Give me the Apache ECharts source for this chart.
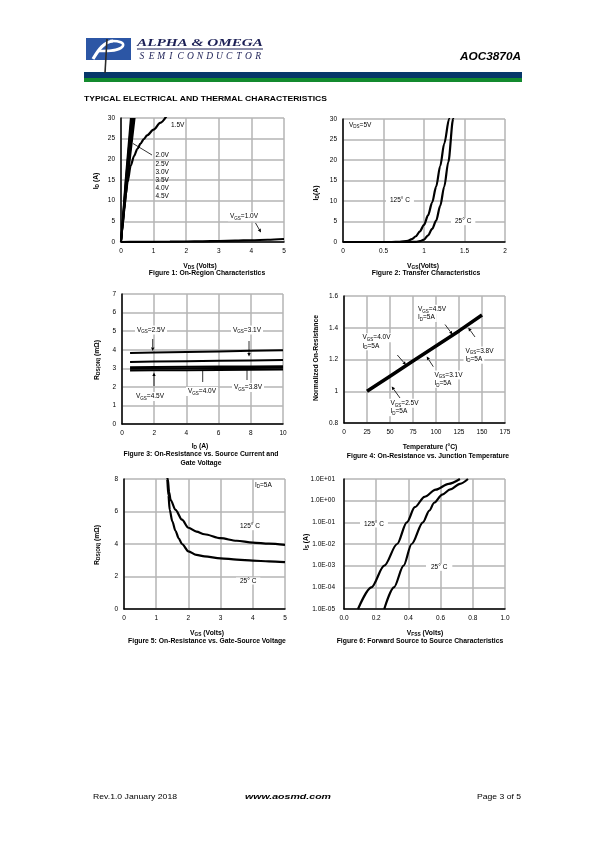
<!DOCTYPE html>
<html><head><meta charset="utf-8">
<script src="https://cdn.jsdelivr.net/npm/echarts@6/dist/echarts.min.js"></script>
<style>html,body{margin:0;padding:0;background:#fff}#c{width:595px;height:842px}</style>
</head><body><div id="c"></div>
<script>
// ---------- DATA ----------
// Figure 1: On-Region Characteristics (VDS V, ID A)
const f1_vgs15_x = [0, 0.05, 0.1, 0.15, 0.2, 0.3, 0.4, 0.5, 0.6, 0.7, 0.8, 1.0, 1.2, 1.4];
const f1_vgs15_y = [0, 4, 8, 11.5, 14.5, 18.5, 20.8, 22.5, 23.8, 24.9, 25.8, 27.2, 28.8, 30.5];
const f1_vgs10_x = [0, 0.5, 1, 1.5, 2, 2.5, 3, 3.5, 4, 4.5, 5];
const f1_vgs10_y = [0, 0.02, 0.05, 0.08, 0.12, 0.17, 0.24, 0.32, 0.42, 0.55, 0.72];
const f1_bundle_labels = ['2.0V', '2.5V', '3.0V', '3.5V', '4.0V', '4.5V'];
const f1_bundle_x = [[0, 0.2, 0.42], [0, 0.185, 0.39], [0, 0.17, 0.36], [0, 0.16, 0.34], [0, 0.15, 0.32], [0, 0.14, 0.30]];
const f1_bundle_y = [0, 15, 30];
// Figure 2: Transfer Characteristics (VGS V, ID A)
const f2_t25_x = [0, 0.8, 0.9, 0.95, 1.0, 1.05, 1.1, 1.15, 1.2, 1.25, 1.3, 1.36, 1.38];
const f2_t25_y = [0, 0, 0.05, 0.2, 0.6, 1.6, 3.2, 5.2, 8.8, 13.5, 19.5, 30, 33];
const f2_t125_x = [0, 0.6, 0.7, 0.8, 0.85, 0.9, 0.95, 1.0, 1.05, 1.1, 1.15, 1.2, 1.25, 1.31, 1.33];
const f2_t125_y = [0, 0, 0.05, 0.3, 0.7, 1.4, 2.6, 4.2, 6.5, 9.6, 13.5, 18.5, 24, 30, 33];
// Figure 3: On-Resistance vs. Drain Current (ID A, RDS(ON) mOhm)
const f3_id = [0.5, 2, 4, 6, 8, 10];
const f3_r25 = [3.82, 3.85, 3.88, 3.91, 3.94, 3.97];
const f3_r31 = [3.34, 3.36, 3.38, 3.40, 3.42, 3.44];
const f3_r38 = [3.06, 3.07, 3.08, 3.09, 3.10, 3.11];
const f3_r40 = [2.98, 2.99, 3.00, 3.01, 3.02, 3.03];
const f3_r45 = [2.88, 2.89, 2.90, 2.91, 2.92, 2.93];
// Figure 4: Normalized On-Resistance vs. Temperature
const f4_temp = [25, 50, 75, 100, 125, 150];
const f4_norm = [1.0, 1.095, 1.19, 1.285, 1.38, 1.48];
// Figure 5: On-Resistance vs. Gate-Source Voltage (VGS V, mOhm)
const f5_t125_x = [1.35, 1.36, 1.4, 1.45, 1.6, 1.8, 2.0, 2.25, 2.5, 3.0, 3.5, 4.0, 4.5, 5.0];
const f5_t125_y = [8.6, 8.0, 7.2, 6.7, 6.1, 5.5, 5.0, 4.76, 4.6, 4.36, 4.2, 4.09, 4.02, 3.95];
const f5_t25_x = [1.33, 1.34, 1.38, 1.42, 1.5, 1.6, 1.7, 1.8, 2.0, 2.25, 2.5, 3.0, 3.5, 4.0, 4.5, 5.0];
const f5_t25_y = [8.6, 8.0, 7.0, 6.1, 5.4, 4.8, 4.35, 4.0, 3.55, 3.33, 3.24, 3.12, 3.04, 2.98, 2.93, 2.88];
// Figure 6: Forward Source to Source Characteristics (VFSS V, IS A)
const f6_t125_x = [0.087, 0.17, 0.25, 0.33, 0.39, 0.44, 0.5, 0.57, 0.65, 0.72];
const f6_t125_y = [1e-5, 1e-4, 1e-3, 1e-2, 0.1, 0.5, 1.5, 3.2, 6, 10];
const f6_t25_x = [0.25, 0.31, 0.37, 0.42, 0.49, 0.53, 0.56, 0.61, 0.66, 0.72, 0.77];
const f6_t25_y = [1e-5, 1e-4, 1e-3, 1e-2, 0.1, 0.35, 0.8, 1.9, 3.3, 6, 10];

// ---------- RENDER ----------
const FONT = "'Liberation Sans', Arial, sans-serif";
const zip = (xs, ys) => xs.map((x, i) => [x, ys[i]]);
const mctx = document.createElement('canvas').getContext('2d');
function measure(text, font) { mctx.font = font; return mctx.measureText(text).width; }

const grids = [
  {left: 121, top: 118, width: 163, height: 124},
  {left: 343, top: 119, width: 162, height: 123},
  {left: 122, top: 294, width: 161, height: 130},
  {left: 344, top: 296, width: 161, height: 127},
  {left: 124, top: 479, width: 161, height: 130},
  {left: 344, top: 479, width: 161, height: 130}
];
function axisBase(extra) {
  return Object.assign({
    axisLine: {show: true, onZero: false, lineStyle: {color: '#000', width: 1.5}},
    axisTick: {show: false},
    splitLine: {show: true, lineStyle: {color: '#b5b5b5', width: 1.5}},
    axisLabel: {fontSize: 6.5, color: '#000', fontFamily: FONT, margin: 6, showMinLabel: true, showMaxLabel: true}
  }, extra);
}
const fmtNum = v => String(parseFloat((+v).toFixed(2)));
const xAxes = [
  axisBase({type: 'value', gridIndex: 0, min: 0, max: 5, interval: 1}),
  axisBase({type: 'value', gridIndex: 1, min: 0, max: 2, interval: 0.5}),
  axisBase({type: 'value', gridIndex: 2, min: 0, max: 10, interval: 2}),
  axisBase({type: 'value', gridIndex: 3, min: 0, max: 175, interval: 25}),
  axisBase({type: 'value', gridIndex: 4, min: 0, max: 5, interval: 1}),
  axisBase({type: 'value', gridIndex: 5, min: 0, max: 1, interval: 0.2})
];
xAxes[5].axisLabel = Object.assign({}, xAxes[5].axisLabel, {formatter: v => (+v).toFixed(1)});
const yAxes = [
  axisBase({type: 'value', gridIndex: 0, min: 0, max: 30, interval: 5}),
  axisBase({type: 'value', gridIndex: 1, min: 0, max: 30, interval: 5}),
  axisBase({type: 'value', gridIndex: 2, min: 0, max: 7, interval: 1}),
  axisBase({type: 'value', gridIndex: 3, min: 0.8, max: 1.6, interval: 0.2}),
  axisBase({type: 'value', gridIndex: 4, min: 0, max: 8, interval: 2}),
  axisBase({type: 'log', gridIndex: 5, logBase: 10, min: 1e-5, max: 10})
];
yAxes[3].axisLabel = Object.assign({}, yAxes[3].axisLabel, {formatter: fmtNum});
yAxes[5].axisLabel = Object.assign({}, yAxes[5].axisLabel, {margin: 9, formatter: v => {
  const e = Math.round(Math.log10(v));
  return '1.0E' + (e >= 0 ? '+' : '-') + String(Math.abs(e)).padStart(2, '0');
}});

function ln(gi, xs, ys, w, smooth) {
  return {type: 'line', xAxisIndex: gi, yAxisIndex: gi, data: zip(xs, ys), symbol: 'none', silent: true,
    lineStyle: {color: '#000', width: w}, smooth: smooth || false, smoothMonotone: 'x', clip: true, z: 3};
}
const series = [];
series.push(ln(0, f1_vgs15_x, f1_vgs15_y, 2.2, 0.3));
series.push(ln(0, f1_vgs10_x, f1_vgs10_y, 2.2, 0.3));
f1_bundle_x.forEach(xs => series.push(ln(0, xs, f1_bundle_y, 1.8)));
series.push(ln(1, f2_t25_x, f2_t25_y, 2.2, 0.3));
series.push(ln(1, f2_t125_x, f2_t125_y, 2.2, 0.3));
[f3_r25, f3_r31, f3_r38, f3_r40, f3_r45].forEach(ys => series.push(ln(2, f3_id, ys, 2)));
series.push(ln(3, f4_temp, f4_norm, 3.5));
series.push(ln(4, f5_t125_x, f5_t125_y, 2.2, 0.3));
series.push(ln(4, f5_t25_x, f5_t25_y, 2.2, 0.3));
series.push(ln(5, f6_t125_x, f6_t125_y, 2.2, 0.3));
series.push(ln(5, f6_t25_x, f6_t25_y, 2.2, 0.3));

// ---------- GRAPHIC (page furniture & annotations) ----------
const G = [];
const RICH = {
  n: {fontSize: 6.5, fontFamily: FONT, lineHeight: 9, fill: '#000'},
  s: {fontSize: 4.5, fontFamily: FONT, lineHeight: 5, verticalAlign: 'bottom', fill: '#000'},
  b: {fontSize: 6.8, fontFamily: FONT, fontWeight: 'bold', lineHeight: 9, fill: '#000'},
  bs: {fontSize: 4.8, fontFamily: FONT, fontWeight: 'bold', lineHeight: 5, verticalAlign: 'bottom', fill: '#000'}
};
function t(x, y, text, o) {
  o = o || {};
  const el = {type: 'text', x: x, y: y, z: 100, silent: true,
    style: {text: text, font: o.font || ('6.5px ' + FONT), fill: o.fill || '#000', align: o.align || 'left',
      verticalAlign: 'middle', rich: RICH}};
  if (o.bg) { el.style.backgroundColor = '#fff'; el.style.padding = [0, 2]; }
  if (o.rot) el.rotation = o.rot;
  if (o.scaleX) el.scaleX = o.scaleX;
  G.push(el);
}
function fit(x, y, text, font, width, align, fill) {
  const s = width / measure(text, font);
  t(x, y, text, {font: font, align: align, scaleX: s, fill: fill});
}
function arrow(x1, y1, x2, y2, noHead) {
  const dx = x2 - x1, dy = y2 - y1, L = Math.hypot(dx, dy), ux = dx / L, uy = dy / L;
  const hl = noHead ? 0 : 3.5, hw = 1.7;
  const bx = x2 - ux * hl, by = y2 - uy * hl;
  G.push({type: 'line', z: 101, silent: true, shape: {x1: x1, y1: y1, x2: bx, y2: by}, style: {stroke: '#000', lineWidth: 0.8}});
  if (!noHead) G.push({type: 'polygon', z: 101, silent: true,
    shape: {points: [[x2, y2], [bx - uy * hw, by + ux * hw], [bx + uy * hw, by - ux * hw]]}, style: {fill: '#000'}});
}

// Header
const NAVY = '#1b1f55';
G.push({type: 'rect', shape: {x: 86, y: 38, width: 45, height: 22}, style: {fill: '#2c56a5'}, z: 10});
G.push({type: 'bezierCurve', z: 11, shape: {x1: 93, y1: 59, cpx1: 99, cpy1: 49, cpx2: 104, cpy2: 42, x2: 113, y2: 41},
  style: {stroke: '#fff', lineWidth: 3.2, fill: null}});
G.push({type: 'bezierCurve', z: 11, shape: {x1: 110, y1: 41, cpx1: 130, cpy1: 40, cpx2: 128, cpy2: 52, x2: 99, y2: 51},
  style: {stroke: '#fff', lineWidth: 2.6, fill: null}});
G.push({type: 'line', z: 12, shape: {x1: 107, y1: 39, x2: 105, y2: 73}, style: {stroke: '#2a2a2a', lineWidth: 1.6}});
fit(137, 43, 'ALPHA & OMEGA', "italic bold 11px 'Liberation Serif'", 126, 'left', NAVY);
G.push({type: 'line', z: 10, shape: {x1: 137, y1: 49, x2: 263, y2: 49}, style: {stroke: NAVY, lineWidth: 1}});
'SEMICONDUCTOR'.split('').forEach((ch, i) => {
  t(137 + 126 / 13 * (i + 0.5), 56.5, ch, {font: "italic 9.5px 'Liberation Serif'", align: 'center', fill: NAVY});
});
fit(521, 57, 'AOC3870A', "italic bold 11px " + FONT, 61, 'right', '#000');
G.push({type: 'rect', shape: {x: 84, y: 72, width: 438, height: 6}, style: {fill: '#06376a'}, z: 10});
G.push({type: 'rect', shape: {x: 84, y: 78, width: 438, height: 4}, style: {fill: '#138a2e'}, z: 10});
fit(84, 98.5, 'TYPICAL ELECTRICAL AND THERMAL CHARACTERISTICS', 'bold 7.5px ' + FONT, 243, 'left', '#000');

// Footer
fit(93, 797, 'Rev.1.0 January 2018', '8px ' + FONT, 84, 'left', '#000');
fit(288, 797, 'www.aosmd.com', 'italic bold 8px ' + FONT, 86, 'center', '#000');
fit(521, 797, 'Page 3 of 5', '8px ' + FONT, 44, 'right', '#000');

// Axis titles & figure captions
const R90 = Math.PI / 2;
const TB = 'bold 6.8px ' + FONT;
// Fig 1
t(96, 181, '{b|I}{bs|D}{b| (A)}', {align: 'center', rot: R90});
t(200, 266, '{b|V}{bs|DS}{b| (Volts)}', {align: 'center'});
t(207, 273, 'Figure 1: On-Region Characteristics', {font: TB, align: 'center'});
// Fig 2
t(316, 193, '{b|I}{bs|D}{b|(A)}', {align: 'center', rot: R90});
t(423, 266, '{b|V}{bs|GS}{b|(Volts)}', {align: 'center'});
t(426, 273, 'Figure 2: Transfer Characteristics', {font: TB, align: 'center'});
// Fig 3
t(97, 360, '{b|R}{bs|DS(ON)}{b| (mΩ)}', {align: 'center', rot: R90});
t(200, 446, '{b|I}{bs|D}{b| (A)}', {align: 'center'});
t(201, 454, 'Figure 3: On-Resistance vs. Source Current and', {font: TB, align: 'center'});
t(201, 463, 'Gate Voltage', {font: TB, align: 'center'});
// Fig 4
t(316, 358, 'Normalized On-Resistance', {font: TB, align: 'center', rot: R90});
t(430, 447, 'Temperature (°C)', {font: TB, align: 'center'});
t(428, 456, 'Figure 4: On-Resistance vs. Junction Temperature', {font: TB, align: 'center'});
// Fig 5
t(97, 545, '{b|R}{bs|DS(ON)}{b| (mΩ)}', {align: 'center', rot: R90});
t(207, 633, '{b|V}{bs|GS}{b| (Volts)}', {align: 'center'});
t(207, 641, 'Figure 5: On-Resistance vs. Gate-Source Voltage', {font: TB, align: 'center'});
// Fig 6
t(306, 542, '{b|I}{bs|S}{b| (A)}', {align: 'center', rot: R90});
t(425, 633, '{b|V}{bs|FSS}{b| (Volts)}', {align: 'center'});
t(420, 641, 'Figure 6: Forward Source to Source Characteristics', {font: TB, align: 'center'});

// Fig 1 annotations
t(171, 125, '1.5V');
f1_bundle_labels.forEach((s, i) => t(155.5, 155.7 + i * 8.1, s));
arrow(133, 143.5, 152, 155, true);
t(228, 216.7, '{n|V}{s|GS}{n|=1.0V}', {bg: true});
arrow(255.5, 223, 261, 232.5);
// Fig 2 annotations
t(349, 125, '{n|V}{s|DS}{n|=5V}');
t(386, 200.7, '125° C', {bg: true});
G[G.length - 1].style.padding = [0, 4];
t(451, 221.7, '25° C', {bg: true});
G[G.length - 1].style.padding = [0, 4];
// Fig 3 annotations
t(135, 330, '{n|V}{s|GS}{n|=2.5V}', {bg: true});
arrow(152.7, 339, 152.7, 351);
t(231, 330, '{n|V}{s|GS}{n|=3.1V}', {bg: true});
arrow(249, 341, 249, 356.5);
t(134, 396.5, '{n|V}{s|GS}{n|=4.5V}', {bg: true});
arrow(154, 386, 154, 372.5);
t(186, 391.5, '{n|V}{s|GS}{n|=4.0V}', {bg: true});
arrow(202.7, 382, 202.7, 370, true);
t(232, 387.5, '{n|V}{s|GS}{n|=3.8V}', {bg: true});
arrow(247, 380, 247, 369, true);
// Fig 4 annotations
t(416, 309.3, '{n|V}{s|GS}{n|=4.5V}', {bg: true});
t(416, 317.5, '{n|I}{s|D}{n|=5A}', {bg: true});
arrow(445, 324.5, 452.5, 334.5);
t(360.5, 337.7, '{n|V}{s|GS}{n|=4.0V}', {bg: true});
t(360.5, 345.8, '{n|I}{s|D}{n|=5A}', {bg: true});
arrow(397.3, 355, 406, 365);
t(463.5, 351, '{n|V}{s|GS}{n|=3.8V}', {bg: true});
t(463.5, 359.2, '{n|I}{s|D}{n|=5A}', {bg: true});
arrow(475, 337, 468.3, 327.7);
t(432.5, 375, '{n|V}{s|GS}{n|=3.1V}', {bg: true});
t(432.5, 383.3, '{n|I}{s|D}{n|=5A}', {bg: true});
arrow(433.3, 366.7, 426.7, 356.5);
t(388.5, 403.3, '{n|V}{s|GS}{n|=2.5V}', {bg: true});
t(388.5, 411.7, '{n|I}{s|D}{n|=5A}', {bg: true});
arrow(400, 398, 391.7, 386.5);
// Fig 5 annotations
t(255, 485, '{n|I}{s|D}{n|=5A}');
t(238, 526.7, '125° C', {bg: true});
t(236, 581, '25° C', {bg: true});
G[G.length - 1].style.padding = [0, 4];
// Fig 6 annotations
t(360, 524, '125° C', {bg: true});
G[G.length - 1].style.padding = [0, 4];
t(426, 567.3, '25° C', {bg: true});
G[G.length - 1].style.padding = [0, 5];

const chart = echarts.init(document.getElementById('c'), null, {renderer: 'canvas', width: 595, height: 842});
chart.setOption({
  animation: false,
  backgroundColor: '#fff',
  grid: grids,
  xAxis: xAxes,
  yAxis: yAxes,
  series: series,
  graphic: {elements: G}
});
</script></body></html>
